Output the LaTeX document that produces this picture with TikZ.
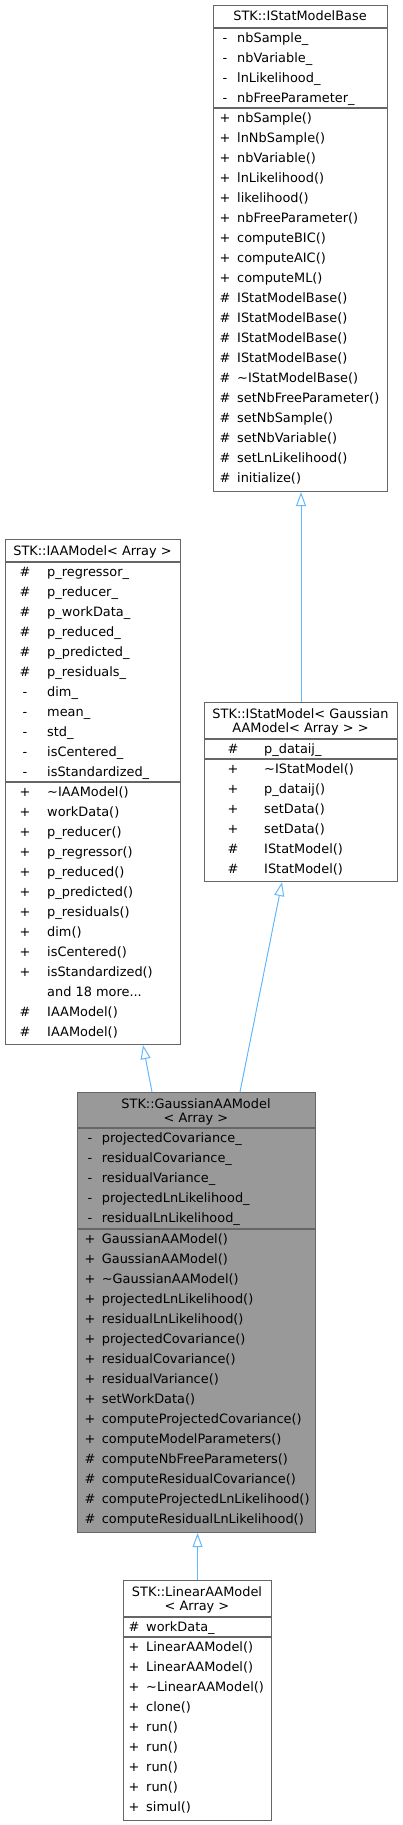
\documentclass[tikz,border=0pt]{standalone}
\usepackage{fontspec}
\setmainfont{DejaVu Sans}
\usetikzlibrary{arrows.meta}
\definecolor{edgegray}{HTML}{666666}
\definecolor{fillgray}{HTML}{999999}
\definecolor{inhblue}{HTML}{63B8FF}
\newcommand\mythreedots{...}
\tikzset{
  box/.style={draw=edgegray,line width=1.1pt,rectangle,inner sep=0pt,anchor=north west},
  sep/.style={draw=edgegray,line width=1.1pt},
  txt/.style={inner sep=0pt,font=\fontsize{12.9}{15}\selectfont},
  inh/.style={draw=inhblue,line width=1pt,-{Triangle[open,length=14pt,width=10pt]}}
}
\newcommand\umlrows[5]{%
  \foreach \s/\t [count=\i from 0] in {#5} {
    \node[txt,anchor=base] (#1s\i) at (#2,{#4+20*\i}) {\s};
    \node[txt,anchor=base west] (#1t\i) at (#3,{#4+20*\i}) {\t};
  }}
\begin{document}
\begin{tikzpicture}[x=1pt,y=-1pt]
\useasboundingbox (0,0) rectangle (402,1825);
% ---------- IStatModelBase
\node[box,minimum width=174pt,minimum height=486pt] (base) at (213,5) {};
\draw[sep] (base.west |- 0,28) -- (base.east |- 0,28);
\draw[sep] (base.west |- 0,108) -- (base.east |- 0,108);
\node[txt,anchor=base] (baseT) at (300,21) {STK::IStatModelBase};
\umlrows{ba}{225}{237}{42.3}{-/nbSample\_,-/nbVariable\_,-/lnLikelihood\_,-/nbFreeParameter\_}
\umlrows{bm}{225}{237}{122.3}{+/nbSample(),+/lnNbSample(),+/nbVariable(),+/lnLikelihood(),+/likelihood(),+/nbFreeParameter(),+/computeBIC(),+/computeAIC(),+/computeML(),\#/IStatModelBase(),\#/IStatModelBase(),\#/IStatModelBase(),\#/IStatModelBase(),\#/\textasciitilde IStatModelBase(),\#/setNbFreeParameter(),\#/setNbSample(),\#/setNbVariable(),\#/setLnLikelihood(),\#/initialize()}
% ---------- IAAModel
\node[box,minimum width=175pt,minimum height=505pt] (iaa) at (5,539) {};
\draw[sep] (iaa.west |- 0,562) -- (iaa.east |- 0,562);
\draw[sep] (iaa.west |- 0,782) -- (iaa.east |- 0,782);
\node[txt,anchor=base] (iaaT) at (92.5,555) {STK::IAAModel< Array >};
\umlrows{ia}{25}{47}{576.3}{\#/p\_regressor\_,\#/p\_reducer\_,\#/p\_workData\_,\#/p\_reduced\_,\#/p\_predicted\_,\#/p\_residuals\_,-/dim\_,-/mean\_,-/std\_,-/isCentered\_,-/isStandardized\_}
\umlrows{im}{25}{47}{796.3}{+/\textasciitilde IAAModel(),+/workData(),+/p\_reducer(),+/p\_regressor(),+/p\_reduced(),+/p\_predicted(),+/p\_residuals(),+/dim(),+/isCentered(),+/isStandardized(),{}/and 18 more\mythreedots,\#/IAAModel(),\#/IAAModel()}
% ---------- IStatModel
\node[box,minimum width=193pt,minimum height=179pt] (ist) at (204,702) {};
\draw[sep] (ist.west |- 0,739) -- (ist.east |- 0,739);
\draw[sep] (ist.west |- 0,759) -- (ist.east |- 0,759);
\node[txt,anchor=base] (istT1) at (300.5,718) {STK::IStatModel< Gaussian};
\node[txt,anchor=base] (istT2) at (300.5,732) {AAModel< Array > >};
\umlrows{sa}{233}{264}{753.3}{\#/p\_dataij\_}
\umlrows{sm}{233}{264}{773.3}{+/\textasciitilde IStatModel(),+/p\_dataij(),+/setData(),+/setData(),\#/IStatModel(),\#/IStatModel()}
% ---------- GaussianAAModel
\node[box,fill=fillgray,minimum width=238pt,minimum height=440pt] (gauss) at (77,1092) {};
\draw[sep] (gauss.west |- 0,1128) -- (gauss.east |- 0,1128);
\draw[sep] (gauss.west |- 0,1229) -- (gauss.east |- 0,1229);
\node[txt,anchor=base] (gT1) at (196,1108) {STK::GaussianAAModel};
\node[txt,anchor=base] (gT2) at (196,1122) {< Array >};
\umlrows{ga}{90}{101.7}{1142.3}{-/projectedCovariance\_,-/residualCovariance\_,-/residualVariance\_,-/projectedLnLikelihood\_,-/residualLnLikelihood\_}
\umlrows{gm}{90}{101.7}{1243.3}{+/GaussianAAModel(),+/GaussianAAModel(),+/\textasciitilde GaussianAAModel(),+/projectedLnLikelihood(),+/residualLnLikelihood(),+/projectedCovariance(),+/residualCovariance(),+/residualVariance(),+/setWorkData(),+/computeProjectedCovariance(),+/computeModelParameters(),\#/computeNbFreeParameters(),\#/computeResidualCovariance(),\#/computeProjectedLnLikelihood(),\#/computeResidualLnLikelihood()}
% ---------- LinearAAModel
\node[box,minimum width=148pt,minimum height=240pt] (lin) at (123,1580) {};
\draw[sep] (lin.west |- 0,1617) -- (lin.east |- 0,1617);
\draw[sep] (lin.west |- 0,1637) -- (lin.east |- 0,1637);
\node[txt,anchor=base] (lT1) at (197,1596.5) {STK::LinearAAModel};
\node[txt,anchor=base] (lT2) at (197,1610.5) {< Array >};
\umlrows{la}{134}{146}{1631}{\#/workData\_}
\umlrows{lm}{134}{146}{1651}{+/LinearAAModel(),+/LinearAAModel(),+/\textasciitilde LinearAAModel(),+/clone(),+/run(),+/run(),+/run(),+/run(),+/simul()}
% ---------- inheritance
\draw[inh] (ist.north) -- (base.south -| ist.north);
\draw[inh] (gauss.north -| 152,0) -- (iaa.south -| 143,0);
\draw[inh] (gauss.north -| 240,0) -- (ist.south -| 282,0);
\draw[inh] (lin.north) -- (gauss.south -| lin.north);
\end{tikzpicture}
\end{document}
